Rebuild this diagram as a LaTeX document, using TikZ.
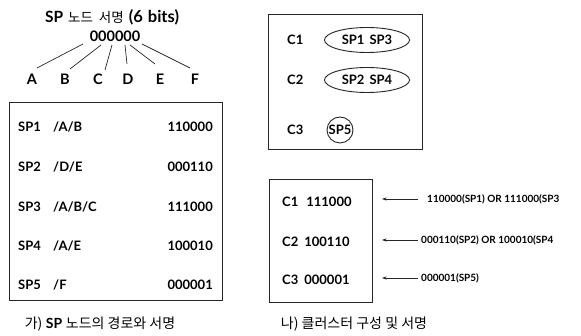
\documentclass[tikz,border=0pt]{standalone}
\usepackage{fontspec}
\setmainfont{Lato}
\newfontfamily\kr{Noto Sans CJK KR}
\usetikzlibrary{arrows.meta,shapes.geometric}

\begin{document}
\begin{tikzpicture}[x=1pt,y=-1pt,
  txt/.style={font=\fontsize{13}{15}\selectfont\bfseries, inner sep=0pt},
  big/.style={font=\fontsize{14.5}{16}\selectfont\bfseries, inner sep=0pt},
  small/.style={font=\fontsize{10}{12}\selectfont\bfseries, inner sep=0pt},
  captxt/.style={font=\fontsize{14}{16}\selectfont, inner sep=0pt},
  frame/.style={draw=black!85, line width=1pt, inner sep=0pt},
  fan/.style={draw=black!85, line width=0.7pt},
  grp/.style={ellipse, draw=black!85, line width=0.9pt, minimum width=85pt, minimum height=25pt, inner sep=0pt, font=\fontsize{13}{15}\selectfont\bfseries},
  one/.style={circle, draw=black!85, line width=0.9pt, minimum size=26pt, inner sep=0pt, font=\fontsize{13}{15}\selectfont\bfseries},
  ptr/.style={draw=black!85, line width=0.5pt, -{Stealth[length=4.5pt,width=3pt]}}]
\useasboundingbox[fill=white] (0,0) rectangle (581,336);

% ---- signature of an SP node: one bit per letter ----
\node[inner sep=0pt] (title) at (112,17) {\fontsize{15.5}{17}\selectfont\bfseries SP\hspace{5pt}{\kr\mdseries\fontsize{13.5}{15}\selectfont 노드\hspace{6pt}서명}\hspace{5pt}{\fontsize{16.5}{18}\selectfont(6\hspace{5pt}bits)}};
\node[big] (sig) at (115,36) {000000};
\foreach \n/\x in {A/32,B/65,C/98,D/128,E/160,F/195}
  \node[big] (\n) at (\x,79) {\n};
\coordinate (sA) at (83,44);  \coordinate (eA) at (37,68);
\coordinate (sB) at (101,45); \coordinate (eB) at (70,69);
\coordinate (sC) at (112,45); \coordinate (eC) at (105,70);
\coordinate (sD) at (125,45); \coordinate (eD) at (127,64);
\coordinate (sE) at (130,45); \coordinate (eE) at (155,64);
\coordinate (sF) at (142,44); \coordinate (eF) at (190,68);
\foreach \n in {A,B,C,D,E,F}
  \draw[fan] (s\n) -- (e\n);

% ---- paths and signatures of the SP nodes ----
\node[frame, minimum width=213pt, minimum height=198pt] (tbl) at (115.5,202) {};
\foreach \i/\p/\b/\y in {1/{/A/B}/110000/127, 2/{/D/E}/000110/167,
                         3/{/A/B/C}/111000/207, 4/{/A/E}/100010/246,
                         5/{/F}/000001/285} {
  \node[txt, anchor=west] (sp\i) at (18,\y) {SP\i};
  \node[txt, anchor=west] (path\i) at (53,\y) {\p};
  \node[txt, anchor=east] (bits\i) at (213,\y) {\b};
}
\node[captxt] (capA) at (100,324) {{\kr 가)} {\bfseries SP} {\kr 노드의 경로와 서명}};

% ---- clusters ----
\node[frame, minimum width=154pt, minimum height=135pt] (clu) at (345,82.5) {};
\node[txt, anchor=west] (c1) at (287,40) {C1};
\node[txt, anchor=west] (c2) at (287,80) {C2};
\node[txt, anchor=west] (c3) at (287,130) {C3};
\node[grp] (g1) at (367,40) {SP1\hspace{5pt}SP3};
\node[grp] (g2) at (367,80) {SP2\hspace{5pt}SP4};
\node[one] (g3) at (340,130) {SP5};

% ---- cluster signatures ----
\node[frame, minimum width=103pt, minimum height=123pt] (cbox) at (320.5,241.5) {};
\draw[black!85, line width=1.8pt] (cbox.north east) -- (cbox.south east);
\node[txt, anchor=west] (k1) at (282,202) {C1\hspace{8pt}111000};
\node[txt, anchor=west] (k2) at (282,242) {C2\hspace{6pt}100110};
\node[txt, anchor=west] (k3) at (282,280) {C3\hspace{6pt}000001};
\node[small, anchor=west] (o1) at (427,199) {110000(SP1) OR 111000(SP3};
\node[small, anchor=west] (o2) at (421,240) {000110(SP2) OR 100010(SP4};
\node[small, anchor=west] (o3) at (421,278) {000001(SP5)};
\coordinate (h1) at (382,199); \coordinate (h2) at (382,240); \coordinate (h3) at (382,278);
\draw[ptr] ([xshift=-9pt]o1.west) -- (h1);
\draw[ptr] ([xshift=-3pt]o2.west) -- (h2);
\draw[ptr] ([xshift=-3pt]o3.west) -- (h3);
\node[captxt] (capB) at (354,324) {{\kr 나) 클러스터 구성 및 서명}};
\end{tikzpicture}
\end{document}
